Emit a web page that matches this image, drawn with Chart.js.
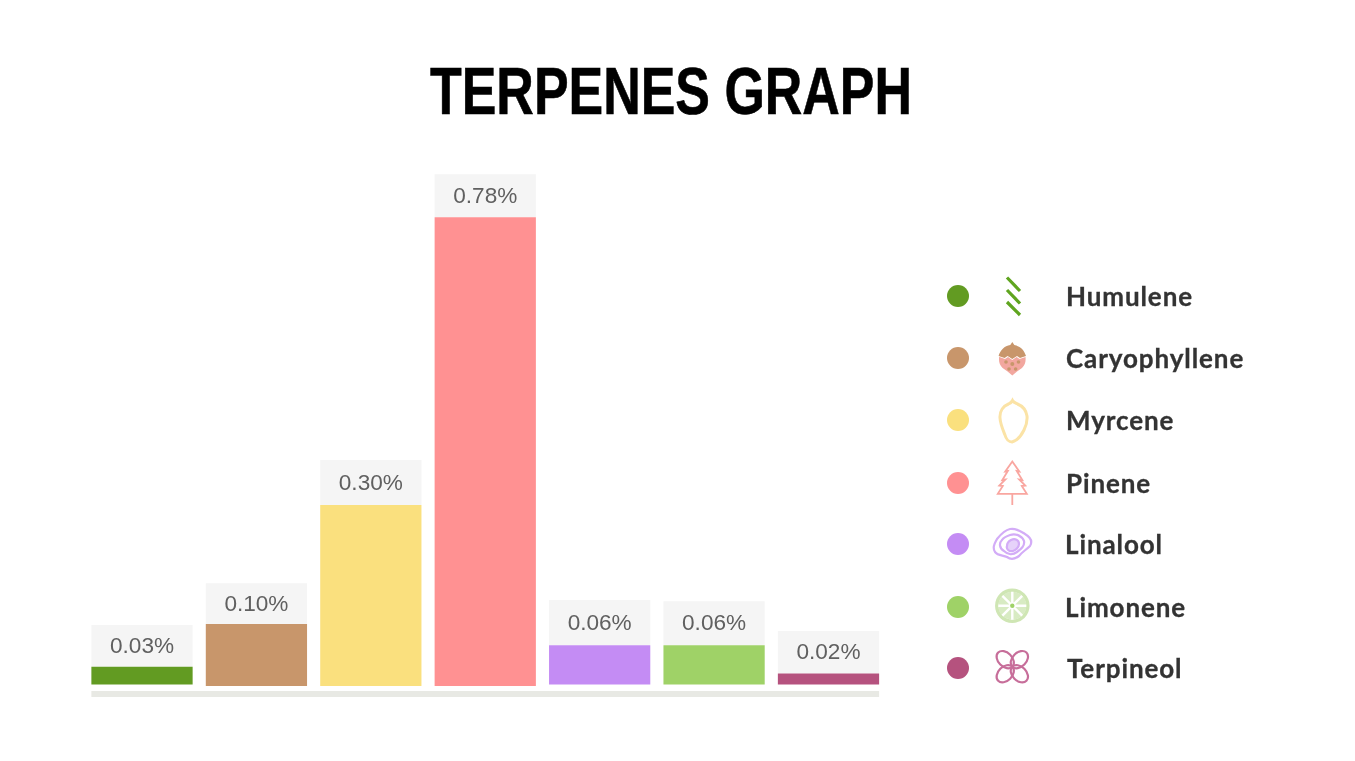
<!DOCTYPE html>
<html><head><meta charset="utf-8">
<script src="https://cdn.jsdelivr.net/npm/chart.js@4/dist/chart.umd.min.js"></script>
<style>
html,body{margin:0;padding:0;background:#fff;width:1355px;height:761px;overflow:hidden}
#wrap{position:absolute;left:0;top:0;width:1342px;height:761px}
#icons{position:absolute;left:0;top:0}
#title{position:absolute;left:430px;top:53px;margin:0;font:700 66px/76px "Liberation Sans",Arial,sans-serif;color:#000;white-space:nowrap;transform-origin:0 0;-webkit-text-stroke:.6px #000}
.lg{position:absolute;font:700 26px Lato,sans-serif;color:#333;line-height:30px;white-space:nowrap;letter-spacing:.9px;-webkit-text-stroke:.3px #333}
.dot{position:absolute;width:22px;height:22px;border-radius:50%}
</style></head><body>
<div id="wrap"><canvas id="c" width="1342" height="761"></canvas></div>
<h1 id="title">TERPENES GRAPH</h1>
<svg id="icons" width="1355" height="761" fill="none">
<g stroke="#5fa51f" stroke-width="3.200"><path d="M1007 277.500L1020 291M1007 290L1020 303.500M1007 302L1020 315"/></g>
<path d="M1012.300 342l2 3c6 1 10 5 11.700 11l-6 2-3-2-4.700 3-4.700-3-3 2-6-2c1.700-6 5.700-10 11.700-11z" fill="#c8966b"/>
<path d="M999.500 357l5.500 2 3-2 4.300 3 4.300-3 3 2 5.900-2c.5 5-.5 8-3.500 11l-5 3.500-4.700 4-4.700-4-5-3.500c-3-3-4-6-3.500-11z" fill="#f2a79f"/>
<g fill="#c8966b"><circle cx="1006" cy="362" r="1.800"/><circle cx="1012.300" cy="364" r="2"/><circle cx="1018.500" cy="362" r="1.800"/><circle cx="1009" cy="369" r="1.800"/><circle cx="1015.600" cy="369" r="1.800"/></g>
<path d="M1012.500 400.500c-1 2-2 2.500-4 3.500-5 2-9 7-8.500 14 .3 6 3 12 5 17 1 4 4 7 7 7 4-1 9-6 12-12 2-4 3.500-9 3-14-1-6-4.500-10-9.500-12-2-1-4-1.500-5-3.500z" stroke="#fbe3a6" stroke-width="3"/>
<path d="M1012.300 461.500l7 10-2.500-.5 5.500 9-3-.5 6 6-3.500.5 5 7.800h-29l5-7.800-3.500-.5 6-6-3 .5 5.500-9-2.500.5zM1012.300 494.300V505" stroke="#f9a6a0" stroke-width="1.800"/>
<g stroke="#d3acf7" stroke-width="2.200"><path d="M1010 529c6-1 10 2 15 5 5 3 8 7 5 12-4 4-8 6-11 10-4 3-8 4-12 1-4-2-9-1-12-5-3-5 0-9 2-13 4-5 8-9 13-10z"/><path d="M1010 535c6-2 12 1 14 6 1 5-3 8-7 11-4 3-9 3-13-1-5-3-5-8-2-11 2-3 5-4 8-5z"/><path d="M1011 540c4-2 8 0 8 4 0 3-3 6-6 7-4 1-7-2-6-5 0-3 2-5 4-6z" fill="#e6d2fa"/></g>
<circle cx="1012.300" cy="605.700" r="15.500" stroke="#cfe6b4" stroke-width="3.500"/>
<circle cx="1012.300" cy="605.700" r="14" fill="#d8ebc3"/>
<g stroke="#fff" stroke-width="2.400"><path d="M1012.300 591.700v28M998.300 605.700h28M1002.400 595.800l19.800 19.800M1002.400 615.600l19.800-19.800"/></g>
<circle cx="1012.300" cy="605.700" r="2.200" fill="#9fd267"/>
<g stroke="#c76e9a" stroke-width="2.200">
<ellipse cx="1022.300" cy="666.700" rx="10" ry="7" transform="rotate(45 1012.300 666.700)"/>
<ellipse cx="1022.300" cy="666.700" rx="10" ry="7" transform="rotate(135 1012.300 666.700)"/>
<ellipse cx="1022.300" cy="666.700" rx="10" ry="7" transform="rotate(225 1012.300 666.700)"/>
<ellipse cx="1022.300" cy="666.700" rx="10" ry="7" transform="rotate(315 1012.300 666.700)"/>
</g>
</svg>
<script>
const categories=['Humulene','Caryophyllene','Myrcene','Pinene','Linalool','Limonene','Terpineol'];
const valueLabels=['0.03%','0.10%','0.30%','0.78%','0.06%','0.06%','0.02%'];
const barTops=[0.032,0.103,0.301,0.78,0.068,0.068,0.021];
const barBases=[0.0025,0,0,0,0.0025,0.0025,0.0025];
const labelBoxTops=[0.1015,0.171,0.376,0.8515,0.143,0.141,0.0915];
const colors=['#629b22','#c8966b','#fae07e','#ff9192','#c48cf4','#9fd267','#b5527e'];
const legendX=[1066,1066,1066,1066,1065,1065,1067];
const legendY=[296,358,420,483,544,607,668];
const dotY=[296,358,420,483,544,607,668];

const zip=(a,b)=>a.map((v,i)=>[v,b[i]]);
const labelPlugin={id:'labels',afterDatasetsDraw(ch){
  const ctx=ch.ctx,meta=ch.getDatasetMeta(1);
  ctx.save();ctx.font='22.6px "Liberation Sans",sans-serif';ctx.fillStyle='#606060';ctx.textAlign='center';ctx.textBaseline='middle';
  meta.data.forEach((b,i)=>{ctx.fillText(valueLabels[i],b.x,(b.y+b.base)/2+1);});
  const first=ch.getDatasetMeta(0).data[0],last=ch.getDatasetMeta(0).data[6];
  const y=ch.scales.y.getPixelForValue(-0.0134);
  ctx.strokeStyle='#e8e9e4';ctx.lineWidth=6;ctx.beginPath();
  ctx.moveTo(first.x-first.width/2,y);ctx.lineTo(last.x+last.width/2,y);ctx.stroke();
  ctx.restore();
}};
new Chart(document.getElementById('c'),{
  type:'bar',
  data:{labels:categories,datasets:[
    {label:'Terpene %',data:zip(barBases,barTops),backgroundColor:colors,barPercentage:0.885,categoryPercentage:1,borderSkipped:false},
    {label:'Label box',data:zip(barTops,labelBoxTops),backgroundColor:'#f5f5f5',barPercentage:0.885,categoryPercentage:1,borderSkipped:false}
  ]},
  options:{
    responsive:false,animation:false,
    layout:{padding:{left:84.8,right:456.3,top:150,bottom:61}},
    scales:{
      x:{display:false,stacked:true},
      y:{display:false,min:-0.02328,max:0.89167}
    },
    plugins:{legend:{display:false},tooltip:{enabled:false},title:{display:false}}
  },
  plugins:[labelPlugin]
});
const title=document.getElementById('title');
title.style.transform='scaleX('+(482/title.getBoundingClientRect().width)+')';
categories.forEach((n,i)=>{
  const d=document.createElement('div');d.className='dot';d.style.cssText=`left:947px;top:${dotY[i]-11}px;background:${colors[i]}`;document.body.appendChild(d);
  const t=document.createElement('div');t.className='lg';t.textContent=n;t.style.left=legendX[i]+'px';t.style.top=(legendY[i]-15)+'px';document.body.appendChild(t);
});
</script></body></html>
